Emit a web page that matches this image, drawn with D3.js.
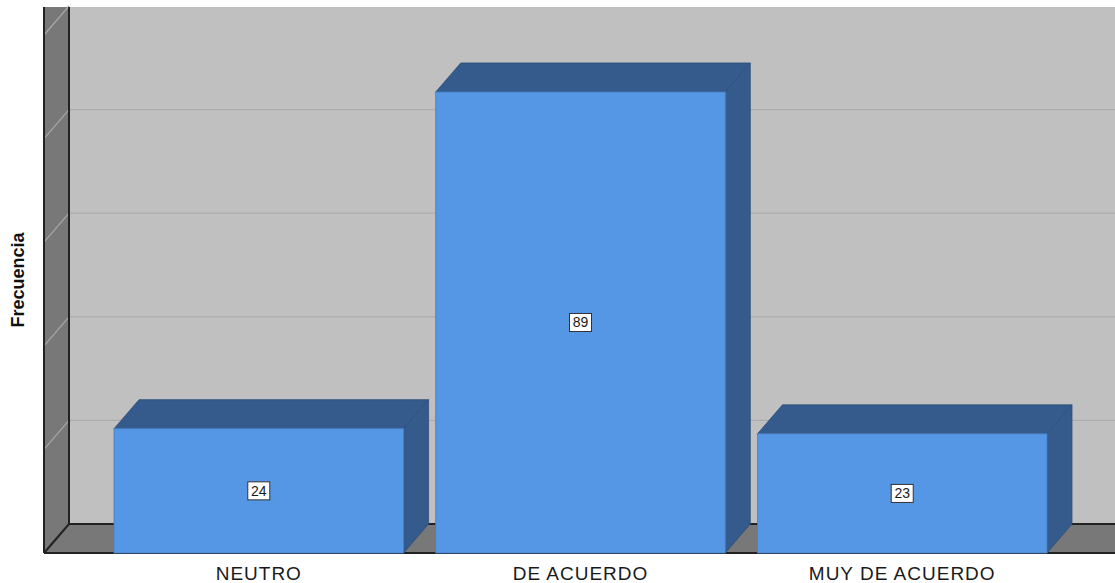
<!DOCTYPE html>
<html>
<script src="https://d3js.org/d3.v7.min.js"></script>
<body style="margin:0;background:#fff">
<svg width="1115" height="583"></svg>
<script>
var categories = ["NEUTRO", "DE ACUERDO", "MUY DE ACUERDO"],
    values     = [24, 89, 23],
    yTicks     = [0, 20, 40, 60, 80, 100];

var svg = d3.select("svg"),
    dx = 25, dy = 29,          // depth offset of the 3d box
    left = 44, floorY = 553, topY = 7, right = 1115;

var x = d3.scaleBand().domain(categories).range([114, 1047]).paddingInner(0.1).paddingOuter(0),
    y = d3.scaleLinear().domain([0, 100]).range([floorY, floorY - 518]);

// back wall
svg.append("rect")
   .attr("x", left + dx).attr("y", topY)
   .attr("width", right - left - dx).attr("height", floorY - dy - topY)
   .style("fill", "#c0c0c0");

// gridlines on back wall
svg.append("g").selectAll("line")
   .data(yTicks.filter(function(d) { return d > 0 && y(d) - dy > topY; }))
   .join("line")
   .attr("x1", left + dx).attr("x2", right)
   .attr("y1", function(d) { return y(d) - dy; })
   .attr("y2", function(d) { return y(d) - dy; })
   .style("stroke", "#acacac").style("stroke-width", 1.2);

// left wall
svg.append("path")
   .attr("d", d3.line()([[left, topY], [left + dx, topY], [left + dx, floorY - dy], [left, floorY]]) + "Z")
   .style("fill", "#787878");

// diagonal gridlines on left wall
svg.append("g").selectAll("line")
   .data(yTicks.filter(function(d) { return d > 0; }))
   .join("line")
   .attr("x1", left).attr("x2", left + dx)
   .attr("y1", function(d) { return y(d); })
   .attr("y2", function(d) { return y(d) - dy; })
   .style("stroke", "#a8a8a8").style("stroke-width", 1.2);

// floor
svg.append("path")
   .attr("d", d3.line()([[left, floorY], [left + dx, floorY - dy], [right, floorY - dy], [right, floorY]]) + "Z")
   .style("fill", "#787878");

// wall edges
var edges = svg.append("g").style("stroke", "#222").style("stroke-width", 2).style("fill", "none");
edges.append("line").attr("x1", left).attr("x2", left).attr("y1", topY).attr("y2", floorY);
edges.append("line").attr("x1", left + dx).attr("x2", left + dx).attr("y1", topY).attr("y2", floorY - dy);
edges.append("line").attr("x1", left + dx).attr("x2", right).attr("y1", floorY - dy).attr("y2", floorY - dy);
edges.append("line").attr("x1", left).attr("x2", right).attr("y1", floorY).attr("y2", floorY);
edges.append("line").attr("x1", left).attr("x2", left + dx).attr("y1", floorY).attr("y2", floorY - dy);

// 3d bars
var bars = svg.append("g").selectAll("g")
   .data(categories.map(function(c, i) { return {cat: c, val: values[i]}; }))
   .join("g");

bars.append("path")   // top
   .attr("d", function(d) {
     var x0 = x(d.cat), x1 = x0 + x.bandwidth(), yt = y(d.val);
     return d3.line()([[x0, yt], [x0 + dx, yt - dy], [x1 + dx, yt - dy], [x1, yt]]) + "Z";
   })
   .style("fill", "#345b8c").style("stroke", "#2c4e7a").style("stroke-width", 0.8);

bars.append("path")   // side
   .attr("d", function(d) {
     var x1 = x(d.cat) + x.bandwidth(), yt = y(d.val);
     return d3.line()([[x1, yt], [x1 + dx, yt - dy], [x1 + dx, floorY - dy], [x1, floorY]]) + "Z";
   })
   .style("fill", "#345b8c").style("stroke", "#2c4e7a").style("stroke-width", 0.8);

bars.append("rect")   // front
   .attr("x", function(d) { return x(d.cat); })
   .attr("y", function(d) { return y(d.val); })
   .attr("width", x.bandwidth())
   .attr("height", function(d) { return floorY - y(d.val); })
   .style("fill", "#5596e5").style("stroke", "#4a7fc2").style("stroke-width", 0.8);

// value labels
bars.each(function(d) {
  var g = d3.select(this),
      cx = x(d.cat) + x.bandwidth() / 2,
      cy = (y(d.val) + floorY) / 2;
  g.append("rect")
   .attr("x", cx - 11).attr("y", cy - 9).attr("width", 22).attr("height", 18)
   .style("fill", "#fff").style("stroke", "#333").style("stroke-width", 1);
  g.append("text")
   .attr("x", cx).attr("y", cy + 5)
   .attr("text-anchor", "middle")
   .style("font-family", "Liberation Sans, Arial, sans-serif").style("font-size", "14px")
   .style("fill", "#1a1a1a")
   .text(d.val);
});

// x axis labels
svg.append("g").selectAll("text")
   .data(categories)
   .join("text")
   .attr("x", function(d) { return x(d) + x.bandwidth() / 2; })
   .attr("y", 580)
   .attr("text-anchor", "middle")
   .style("font-family", "Liberation Sans, Arial, sans-serif").style("font-size", "19px")
   .style("letter-spacing", "1px")
   .style("fill", "#1a1a1a")
   .text(function(d) { return d; });

// y axis title
svg.append("text")
   .attr("transform", "translate(24,280) rotate(-90)")
   .attr("text-anchor", "middle")
   .style("font-family", "Liberation Sans, Arial, sans-serif").style("font-size", "18px")
   .style("font-weight", "bold").style("fill", "#111")
   .text("Frecuencia");
</script>
</body>
</html>
